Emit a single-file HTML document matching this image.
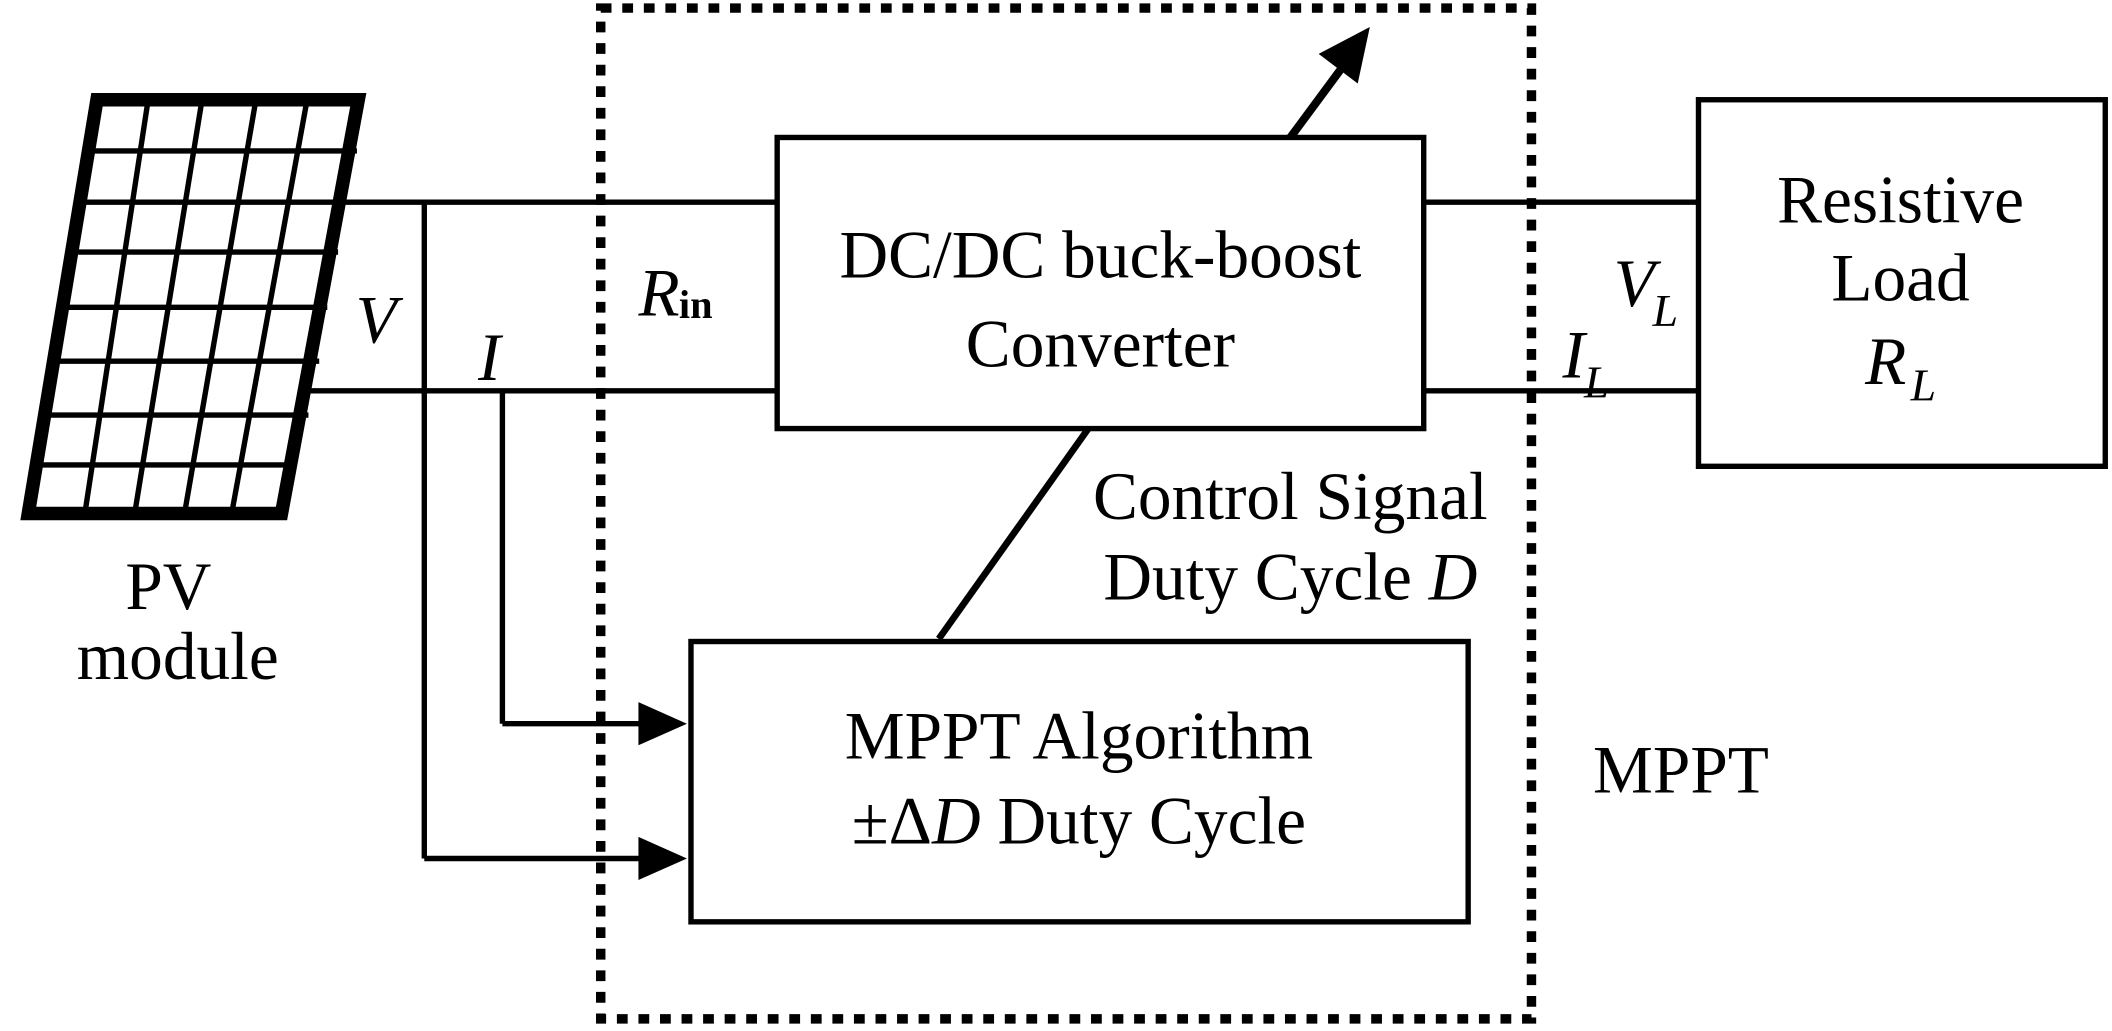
<!DOCTYPE html>
<html><head><meta charset="utf-8"><style>
html,body{margin:0;padding:0;background:#fff;}
svg{display:block;}
text{font-family:"Liberation Serif",serif;font-size:50px;fill:#000;}
.i{font-style:italic;}
</style></head><body>
<svg width="2112" height="1031" viewBox="0 0 1568 765" preserveAspectRatio="none" xmlns="http://www.w3.org/2000/svg">
<rect x="0" y="0" width="1568" height="765" fill="#fff"/>
<rect x="446" y="6" width="691" height="750" fill="none" stroke="#000" stroke-width="7" stroke-dasharray="8 8"/>
<g stroke="#000" fill="none">
<polygon points="72,74 266,74 209,381 21,381" stroke-width="10"/>
<g stroke-width="4">
<line x1="110" y1="74" x2="63" y2="381"/>
<line x1="150" y1="74" x2="100" y2="381"/>
<line x1="190" y1="74" x2="137" y2="381"/>
<line x1="228" y1="74" x2="172" y2="381"/>
<line x1="70" y1="112" x2="265" y2="112"/>
<line x1="64" y1="150" x2="258" y2="150"/>
<line x1="58" y1="187" x2="251" y2="187"/>
<line x1="50" y1="228" x2="243" y2="228"/>
<line x1="43" y1="268" x2="237" y2="268"/>
<line x1="36" y1="308" x2="229" y2="308"/>
<line x1="23" y1="345" x2="216" y2="345"/>
</g>
</g>
<g stroke="#000" stroke-width="4" fill="none">
<line x1="258" y1="150" x2="577" y2="150"/>
<line x1="230" y1="290" x2="577" y2="290"/>
<line x1="315" y1="150" x2="315" y2="637"/>
<line x1="315" y1="637" x2="480" y2="637"/>
<line x1="373" y1="292" x2="373" y2="537"/>
<line x1="373" y1="537" x2="480" y2="537"/>
<line x1="1057" y1="150" x2="1260" y2="150"/>
<line x1="1057" y1="290" x2="1260" y2="290"/>
<line x1="808" y1="318" x2="697" y2="474" stroke-width="5"/>
<line x1="958" y1="102" x2="995" y2="52" stroke-width="6"/>
<rect x="577" y="102" width="480" height="216"/>
<rect x="513" y="476" width="577" height="208"/>
<rect x="1261" y="74" width="302" height="272"/>
</g>
<g fill="#000">
<polygon points="510,537 474,521 474,553"/>
<polygon points="510,637 474,621 474,653"/>
<polygon points="1017,20 979,40 1008,62"/>
</g>
<text x="817" y="206" text-anchor="middle">DC/DC buck-boost</text>
<text x="817" y="272" text-anchor="middle">Converter</text>
<text x="958" y="385" text-anchor="middle">Control Signal</text>
<text x="958" y="445" text-anchor="middle">Duty Cycle <tspan class="i">D</tspan></text>
<text x="801" y="563" text-anchor="middle">MPPT Algorithm</text>
<text x="801" y="626" text-anchor="middle">±Δ<tspan class="i">D</tspan> Duty Cycle</text>
<text x="1411" y="165" text-anchor="middle">Resistive</text>
<text x="1411" y="223" text-anchor="middle">Load</text>
<text x="1400" y="285" class="i" text-anchor="middle">R</text>
<text x="1428" y="297" class="i" style="font-size:34px" text-anchor="middle">L</text>
<text x="1248" y="588" text-anchor="middle">MPPT</text>
<text x="125" y="452" text-anchor="middle">PV</text>
<text x="132" y="504" text-anchor="middle">module</text>
<text x="264" y="254" class="i">V</text>
<text x="355" y="282" class="i">I</text>
<text x="474" y="234" class="i">R</text>
<text x="504" y="236" style="font-size:30px;font-weight:bold">in</text>
<text x="1198" y="227" class="i">V</text>
<text x="1227" y="242" class="i" style="font-size:34px">L</text>
<text x="1160" y="280" class="i">I</text>
<text x="1176" y="295" class="i" style="font-size:34px">L</text>
</svg>
</body></html>
